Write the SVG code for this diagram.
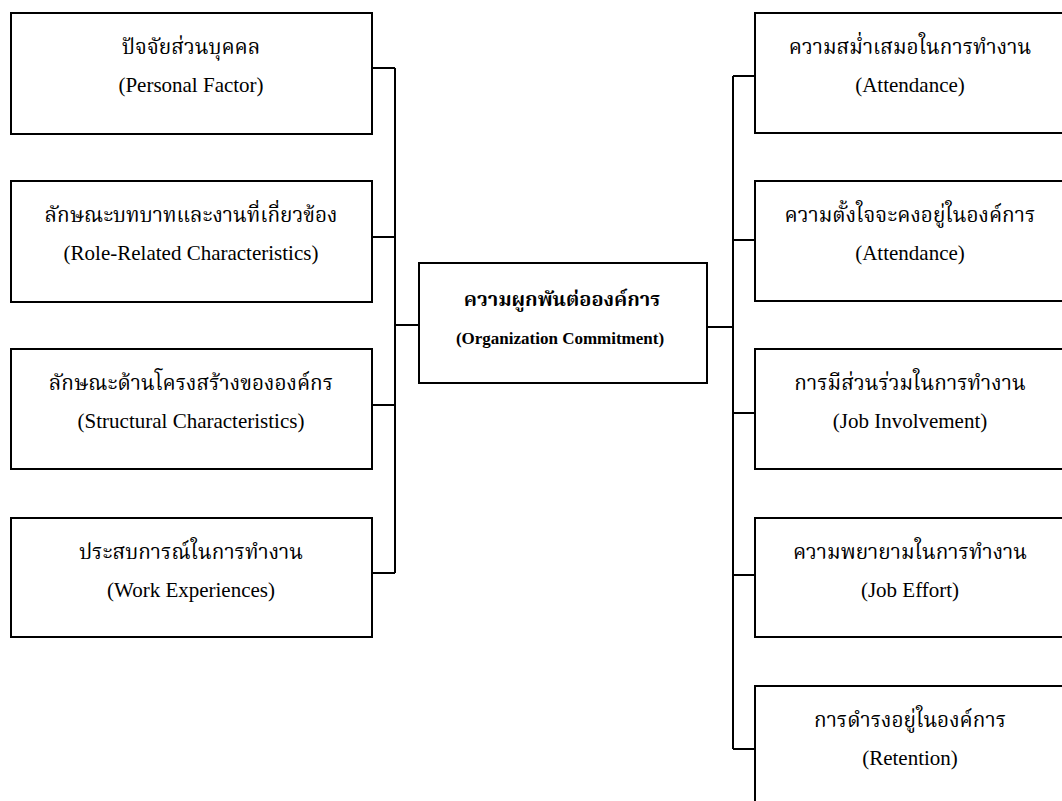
<svg xmlns="http://www.w3.org/2000/svg" width="1062" height="801" viewBox="0 0 1062 801">
<style>
.box{fill:#fff;stroke:#000;stroke-width:2}
.ln{fill:none;stroke:#000;stroke-width:2}
.th{font-family:"Liberation Serif","Noto Serif Thai","Noto Sans Thai",serif;font-size:20.8px;text-anchor:middle;fill:#000}
.en{font-family:"Liberation Serif",serif;font-size:21px;text-anchor:middle;fill:#000}
.thb{font-family:"Liberation Serif","Noto Serif Thai","Noto Sans Thai",serif;font-size:20px;font-weight:bold;text-anchor:middle;fill:#000}
.enb{font-family:"Liberation Serif",serif;font-size:17px;font-weight:bold;text-anchor:middle;fill:#000}
</style>
<rect width="1062" height="801" fill="#fff"/>
<g id="connectors">
<path class="ln" d="M372 68H395M372 237H395M372 405H395M372 573H395M395 68V573M395 325H419"/>
<path class="ln" d="M707 327H733M733 76V749M733 76H755M733 240H755M733 413H755M733 575H755M733 749H755"/>
</g>
<g id="n-personal">
<rect class="box" x="11" y="13" width="361" height="121"/>
<text class="th" x="191" y="54">ปัจจัยส่วนบุคคล</text>
<text class="en" x="191" y="92">(Personal Factor)</text>
</g>
<g id="n-role">
<rect class="box" x="11" y="181" width="361" height="121"/>
<text class="th" x="191" y="222">ลักษณะบทบาทและงานที่เกี่ยวข้อง</text>
<text class="en" x="191" y="260">(Role-Related Characteristics)</text>
</g>
<g id="n-structural">
<rect class="box" x="11" y="349" width="361" height="120"/>
<text class="th" x="191" y="390">ลักษณะด้านโครงสร้างขององค์กร</text>
<text class="en" x="191" y="428">(Structural Characteristics)</text>
</g>
<g id="n-work">
<rect class="box" x="11" y="518" width="361" height="119"/>
<text class="th" x="191" y="559">ประสบการณ์ในการทำงาน</text>
<text class="en" x="191" y="597">(Work Experiences)</text>
</g>
<g id="n-center">
<rect class="box" x="419" y="263" width="288" height="120"/>
<text class="thb" x="562" y="306">ความผูกพันต่อองค์การ</text>
<text class="enb" x="560" y="344">(Organization Commitment)</text>
</g>
<g id="n-attendance">
<rect class="box" x="755" y="13" width="320" height="120"/>
<text class="th" x="910" y="54">ความสม่ำเสมอในการทำงาน</text>
<text class="en" x="910" y="92">(Attendance)</text>
</g>
<g id="n-intention">
<rect class="box" x="755" y="181" width="320" height="120"/>
<text class="th" x="910" y="222">ความตั้งใจจะคงอยู่ในองค์การ</text>
<text class="en" x="910" y="260">(Attendance)</text>
</g>
<g id="n-involvement">
<rect class="box" x="755" y="349" width="320" height="120"/>
<text class="th" x="910" y="390">การมีส่วนร่วมในการทำงาน</text>
<text class="en" x="910" y="428">(Job Involvement)</text>
</g>
<g id="n-effort">
<rect class="box" x="755" y="518" width="320" height="119"/>
<text class="th" x="910" y="559">ความพยายามในการทำงาน</text>
<text class="en" x="910" y="597">(Job Effort)</text>
</g>
<g id="n-retention">
<rect class="box" x="755" y="686" width="320" height="130"/>
<text class="th" x="910" y="727">การดำรงอยู่ในองค์การ</text>
<text class="en" x="910" y="765">(Retention)</text>
</g>
</svg>
